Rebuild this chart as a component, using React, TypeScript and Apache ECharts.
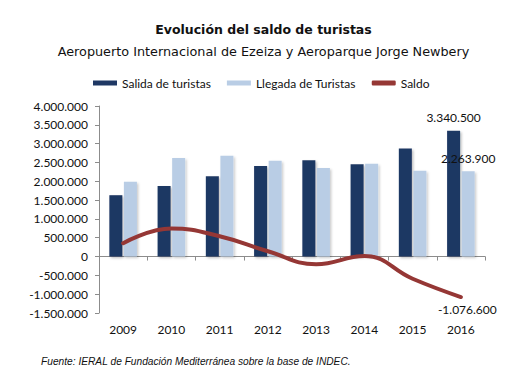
import React, { useEffect, useRef } from "react";
import * as echarts from "echarts";

const years = ["2009", "2010", "2011", "2012", "2013", "2014", "2015", "2016"];
const salida = [1630000, 1875000, 2135000, 2405000, 2560000, 2450000, 2870000, 3340500];
const llegada = [1985000, 2620000, 2675000, 2545000, 2355000, 2465000, 2280000, 2263900];
const saldo = [355000, 745000, 540000, 140000, -205000, 15000, -590000, -1076600];
const yTicks = { min: -1500000, max: 4000000, interval: 500000 };

const fmt = (v: number) => {
  const s = Math.abs(Math.round(v)).toString().replace(/\B(?=(\d{3})+(?!\d))/g, ".");
  return (v < 0 ? "-" : "") + s;
};

const AXIS_FONT = "Lato";

export default function App() {
  const ref = useRef<HTMLDivElement>(null);
  useEffect(() => {
    if (!ref.current) return;
    const chart = echarts.init(ref.current, null, { renderer: "svg" });
    const last = years.length - 1;
    chart.setOption({
      animation: false,
      backgroundColor: "#ffffff",
      title: [
        {
          text: "Evolución del saldo de turistas",
          left: "center",
          top: 18,
          textStyle: { fontFamily: "DejaVu Sans", fontWeight: "bold", fontSize: 12.5, color: "#111" },
        },
        {
          text: "Aeropuerto Internacional de Ezeiza y Aeroparque Jorge Newbery",
          left: "center",
          top: 40,
          textStyle: { fontFamily: "DejaVu Sans", fontWeight: "normal", fontSize: 12.8, color: "#111" },
        },
      ],
      legend: {
        left: 88,
        top: 72,
        itemWidth: 24,
        itemHeight: 5,
        itemGap: 16,
        textStyle: { fontFamily: AXIS_FONT, fontSize: 12, color: "#111" },
        data: [
          { name: "Salida de turistas", icon: "rect" },
          { name: "Llegada de Turistas", icon: "rect" },
          { name: "Saldo", icon: "roundRect" },
        ],
      },
      grid: { left: 99, right: 42, top: 106, bottom: 69 },
      xAxis: [
        {
          type: "category",
          data: years,
          position: "bottom",
          axisLine: { show: false },
          axisTick: { show: false },
          axisLabel: { margin: 10, fontFamily: AXIS_FONT, fontSize: 12, color: "#111" },
        },
        {
          type: "category",
          data: years,
          position: "bottom",
          axisLine: { show: true, onZero: true, onZeroAxisIndex: 0, lineStyle: { color: "#8c8c8c", width: 1 } },
          axisTick: { show: true, length: 4, inside: false, lineStyle: { color: "#8c8c8c" } },
          axisLabel: { show: false },
        },
      ],
      yAxis: {
        type: "value",
        min: yTicks.min,
        max: yTicks.max,
        interval: yTicks.interval,
        splitLine: { show: false },
        axisLine: { show: true, lineStyle: { color: "#8c8c8c" } },
        axisTick: { show: true, length: 4, lineStyle: { color: "#8c8c8c" } },
        axisLabel: { margin: 11, fontFamily: AXIS_FONT, fontSize: 12, color: "#111", formatter: (v: number) => fmt(v) },
      },
      series: [
        {
          name: "Salida de turistas",
          type: "bar",
          data: salida,
          barWidth: 13,
          barGap: "12%",
          itemStyle: {
            color: "#1f3864",
            shadowColor: "rgba(0,0,0,0.25)",
            shadowBlur: 2,
            shadowOffsetX: 1.5,
            shadowOffsetY: 1.5,
          },
          label: {
            show: true,
            position: "top",
            distance: 7,
            fontFamily: AXIS_FONT,
            fontSize: 12,
            color: "#111",
            formatter: (p: any) => (p.dataIndex === last ? fmt(p.value) : ""),
          },
        },
        {
          name: "Llegada de Turistas",
          type: "bar",
          data: llegada,
          barWidth: 13,
          barGap: "12%",
          itemStyle: {
            color: "#b9cde5",
            shadowColor: "rgba(0,0,0,0.2)",
            shadowBlur: 2,
            shadowOffsetX: 1.5,
            shadowOffsetY: 1.5,
          },
          label: {
            show: true,
            position: "top",
            distance: 7,
            fontFamily: AXIS_FONT,
            fontSize: 12,
            color: "#111",
            formatter: (p: any) => (p.dataIndex === last ? fmt(p.value) : ""),
          },
        },
        {
          name: "Saldo",
          type: "line",
          data: saldo,
          smooth: 0.45,
          symbol: "none",
          z: 5,
          lineStyle: { color: "#953735", width: 4, cap: "round" },
          itemStyle: { color: "#953735" },
          label: { show: false },
          endLabel: {
            show: true,
            formatter: (p: any) => fmt(p.value),
            fontFamily: AXIS_FONT,
            fontSize: 12,
            color: "#111",
            offset: [-31, 12],
          },
        },
      ],
      graphic: [
        {
          type: "text",
          left: 41,
          top: 356,
          style: {
            text: "Fuente: IERAL de Fundación Mediterránea sobre la base de INDEC.",
            font: "italic 10.2px 'Liberation Sans'",
            fill: "#111",
          },
        },
      ],
    });
    return () => chart.dispose();
  }, []);
  return <div ref={ref} style={{ width: 527, height: 382, position: "absolute", left: 0, top: 0 }} />;
}
